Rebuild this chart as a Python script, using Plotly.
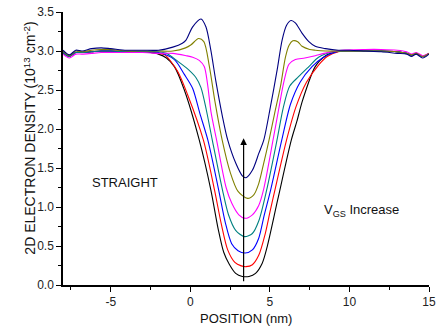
import plotly.graph_objects as go

# ---- data ----
x_black = [-8, -7.6, -7.2, -6.8, -6.2, -5.6, -5, -4, -3, -2.5, -2, -1.5, -1, -0.375, 0.56, 1.29, 1.75, 2.1, 2.44, 2.85, 3.27, 3.69,
           4.1, 4.52, 4.83, 5.5, 6.35, 6.7, 7.06, 7.85, 8.5, 9.2, 10, 11, 12, 13, 13.6, 13.9, 14.2, 14.6, 15]
y_black = [2.98, 2.93, 2.98, 2.98, 2.99, 3.0, 3.0, 2.99, 2.99, 2.98, 2.96, 2.91, 2.8, 2.5, 1.86, 1.22, 0.72, 0.42, 0.27, 0.15, 0.11, 0.11,
           0.15, 0.28, 0.49, 1.1, 1.86, 2.1, 2.37, 2.8, 2.94, 2.99, 3.0, 3.0, 3.0, 2.99, 2.97, 2.95, 2.97, 2.93, 2.97]

x_red = [-8, -7.6, -7.2, -6.8, -6.2, -5.6, -5, -4, -3, -2.5, -2, -1.6, -0.8, -0.17, 0.82, 1.52, 1.95, 2.35, 2.8, 3.2, 3.5,
         3.9, 4.3, 4.7, 5.0, 5.32, 6.05, 6.65, 7.3, 8.06, 8.6, 9.3, 10, 11, 12, 13, 13.6, 13.9, 14.2, 14.6, 15]
y_red = [2.98, 2.93, 2.98, 2.98, 2.99, 3.0, 3.0, 2.99, 2.99, 2.99, 2.97, 2.95, 2.74, 2.44, 1.86, 1.22, 0.78, 0.45, 0.29, 0.245, 0.235,
         0.26, 0.38, 0.65, 0.93, 1.22, 1.86, 2.29, 2.6, 2.82, 2.93, 2.99, 3.0, 3.0, 3.0, 2.99, 2.97, 2.95, 2.97, 2.93, 2.97]

x_blue = [-8, -7.6, -7.2, -6.8, -6.2, -5.6, -5, -4, -3, -2, -1, -0.375, 0.15, 0.6, 1.1, 1.78, 2.2, 2.6, 3.0, 3.45,
          3.9, 4.3, 4.65, 5.05, 5.75, 6.3, 6.9, 7.65, 8.3, 9.2, 10, 11, 12, 13, 13.6, 13.9, 14.2, 14.6, 15]
y_blue = [2.98, 2.93, 2.98, 2.98, 2.99, 3.0, 3.0, 2.99, 2.99, 2.98, 2.89, 2.7, 2.52, 2.2, 1.86, 1.22, 0.8, 0.53, 0.44, 0.41,
          0.45, 0.6, 0.9, 1.22, 1.86, 2.32, 2.6, 2.8, 2.91, 2.99, 3.0, 3.0, 3.0, 2.99, 2.97, 2.95, 2.97, 2.93, 2.97]

x_teal = [-8, -7.6, -7.2, -6.8, -6.2, -5.6, -5, -4, -3, -2, -1.5, -0.8, -0.17, 0.35, 0.67, 1.0, 1.38, 2.02, 2.4, 2.85, 3.4,
          3.9, 4.3, 4.8, 5.45, 5.85, 6.25, 6.8, 7.45, 8.06, 9.0, 10, 11, 12, 13, 13.6, 13.9, 14.2, 14.6, 15]
y_teal = [2.98, 2.93, 2.98, 2.98, 2.99, 3.0, 3.0, 2.99, 2.99, 2.99, 2.97, 2.87, 2.77, 2.66, 2.53, 2.25, 1.86, 1.22, 0.9, 0.7, 0.62,
          0.66, 0.82, 1.22, 1.86, 2.28, 2.55, 2.67, 2.8, 2.92, 2.99, 3.0, 3.0, 3.0, 2.99, 2.97, 2.95, 2.97, 2.93, 2.97]

x_magenta = [-8, -7.6, -7.2, -6.8, -6.2, -5.6, -5, -4, -3, -2, -1.1, -0.27, 0.15, 0.56, 0.875, 1.08, 1.3, 1.65, 2.25, 2.6, 3.05, 3.45,
             3.9, 4.3, 4.6, 5.2, 5.55, 5.875, 6.2, 6.6, 7.2, 7.85, 8.4, 9.5, 11, 12, 13, 13.6, 13.9, 14.2, 14.6, 15]
y_magenta = [2.96, 2.91, 2.96, 2.96, 2.97, 2.98, 2.98, 2.98, 2.98, 2.97, 2.97, 2.94, 2.92, 2.88, 2.8, 2.58, 2.22, 1.86, 1.25, 1.05, 0.9, 0.855,
             0.9, 1.02, 1.22, 1.86, 2.25, 2.6, 2.83, 2.89, 2.91, 2.94, 2.97, 3.01, 3.02, 3.02, 3.01, 2.99, 2.96, 2.98, 2.94, 2.97]

x_olive = [-8, -7.6, -7.2, -6.8, -6.2, -5.6, -5, -4, -3, -2, -1.1, -0.3, 0.05, 0.52, 0.85, 1.2, 1.55, 2.0, 2.5, 3.0, 3.6,
           4.0, 4.3, 4.6, 4.95, 5.3, 5.67, 5.98, 6.2, 6.44, 6.75, 7.02, 7.5, 7.85, 8.5, 10, 11, 12, 13, 13.6, 13.9, 14.2, 14.6, 15]
y_olive = [3.0, 2.94, 3.0, 2.99, 3.01, 3.02, 3.02, 3.0, 3.0, 3.0, 3.0, 3.04, 3.08, 3.16, 3.12, 2.8, 2.35, 1.86, 1.45, 1.2, 1.11,
           1.16, 1.3, 1.55, 1.86, 2.2, 2.55, 2.92, 3.07, 3.13, 3.12, 3.06, 3.02, 3.01, 3.0, 3.0, 3.0, 3.0, 2.99, 2.97, 2.95, 2.97, 2.93, 2.97]

x_navy = [-8, -7.6, -7.2, -6.8, -6.2, -5.6, -5, -4, -3, -2, -1.1, -0.5, -0.27, 0.15, 0.67, 0.98, 1.29, 1.6, 2.02, 2.35, 2.86, 3.27, 3.5,
          3.9, 4.31, 4.62, 5.04, 5.46, 5.77, 6.05, 6.33, 6.6, 7.02, 7.45, 7.85, 8.5, 9.3, 10, 11, 12, 13, 13.6, 13.9, 14.2, 14.6, 15]
y_navy = [3.01, 2.95, 3.01, 3.0, 3.03, 3.04, 3.03, 3.01, 3.01, 3.01, 3.05, 3.1, 3.14, 3.31, 3.41, 3.31, 3.01, 2.62, 2.16, 1.86, 1.56, 1.4, 1.375,
          1.47, 1.69, 1.86, 2.29, 2.76, 3.14, 3.33, 3.39, 3.36, 3.23, 3.12, 3.06, 3.03, 3.01, 3.01, 3.0, 2.99, 2.97, 2.96, 2.93, 2.96, 2.91, 2.96]

series = [
    (x_black, y_black, "#000000"),
    (x_red, y_red, "#ff0000"),
    (x_blue, y_blue, "#0000ff"),
    (x_teal, y_teal, "#008080"),
    (x_magenta, y_magenta, "#ff00ff"),
    (x_olive, y_olive, "#808000"),
    (x_navy, y_navy, "#000080"),
]

x_ticks = [-5, 0, 5, 10, 15]
y_ticks = [0.0, 0.5, 1.0, 1.5, 2.0, 2.5, 3.0, 3.5]

FONT = "Liberation Sans, Arial, sans-serif"

fig = go.Figure()
for xs, ys, c in series:
    fig.add_trace(go.Scatter(x=xs, y=ys, mode="lines",
                             line=dict(color=c, width=1.1, shape="spline", smoothing=0.8),
                             showlegend=False, hoverinfo="skip"))

axis_common = dict(showgrid=False, zeroline=False, showline=True, linecolor="black", linewidth=1.5,
                   ticks="outside", ticklen=5, tickwidth=1, tickcolor="black", automargin=False,
                   tickfont=dict(family=FONT, size=12, color="#222"), mirror=False)

fig.update_xaxes(range=[-8, 15], tickvals=x_ticks, ticktext=[str(v) for v in x_ticks],
                 ticklabeloverflow="allow",
                 minor=dict(ticks="outside", ticklen=3, tickwidth=1, tickcolor="black", dtick=2.5, tick0=0),
                 **axis_common)
fig.update_yaxes(range=[0, 3.5], tickvals=y_ticks, ticktext=[f"{v:.1f}" for v in y_ticks],
                 minor=dict(ticks="outside", ticklen=3, tickwidth=1, tickcolor="black", dtick=0.25, tick0=0),
                 **axis_common)

fig.add_annotation(x=3.35, y=1.88, ax=3.35, ay=0.03, xref="x", yref="y", axref="x", ayref="y",
                   text="", showarrow=True, arrowhead=2, arrowsize=1.1, arrowwidth=1.2, arrowcolor="black",
                   standoff=0, startstandoff=0)

fig.add_annotation(x=-4.1, y=1.31, xref="x", yref="y", text="STRAIGHT", showarrow=False,
                   font=dict(family=FONT, size=13, color="#111"))
fig.add_annotation(x=8.3, y=0.95, xref="x", yref="y", text="V<sub>GS</sub> Increase", showarrow=False,
                   xanchor="left", font=dict(family=FONT, size=13, color="#111"))

fig.add_annotation(x=-0.1226, y=0.5366, xref="paper", yref="paper", textangle=-90,
                   text="2D ELECTRON DENSITY (10<sup>13</sup> cm<sup>-2</sup>)", showarrow=False,
                   font=dict(family=FONT, size=14, color="#111"))
fig.add_annotation(x=0.5, y=-0.121, xref="paper", yref="paper", yanchor="middle",
                   text="POSITION (nm)", showarrow=False,
                   font=dict(family=FONT, size=13, color="#111"))

fig.update_layout(width=436, height=332, margin=dict(l=63, r=7, t=12, b=47, autoexpand=False),
                  paper_bgcolor="white", plot_bgcolor="white")

fig.write_html("out.html")
